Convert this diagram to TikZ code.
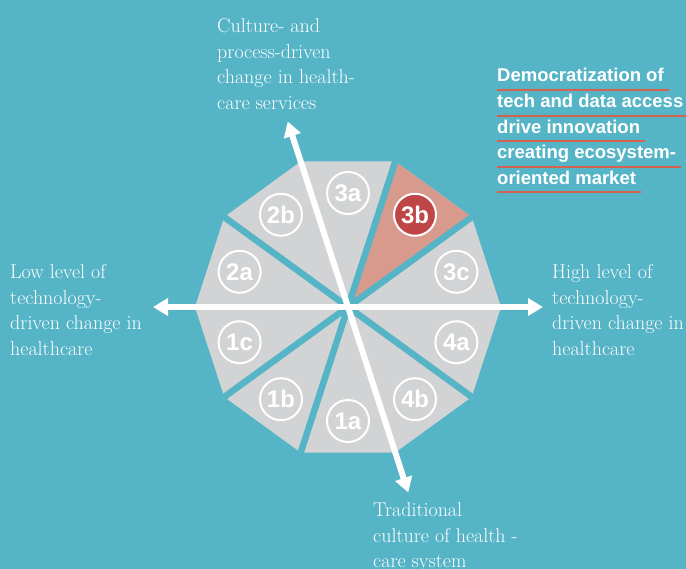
\documentclass[tikz,border=0pt]{standalone}
\usepackage{fontspec}
\newfontfamily\boldsans{Liberation Sans}
\usetikzlibrary{arrows.meta,calc}
\definecolor{bg}{RGB}{86,180,199}
\definecolor{seg}{RGB}{209,211,212}
\definecolor{hl}{RGB}{216,154,140}
\definecolor{dred}{RGB}{190,70,70}
\definecolor{uline}{RGB}{213,97,79}
\tikzset{
  axislabel/.style={anchor=north west, inner sep=0pt, align=left, text=white,
    font=\fontsize{20}{25.8}\selectfont},
  seglabel/.style={circle, draw=white, line width=2pt, minimum size=42pt, inner sep=0pt,
    text=white, font=\boldsans\bfseries\fontsize{24}{24}\selectfont},
  divider/.style={draw=bg, line width=6.5pt},
  axisarrow/.style={draw=white, line width=6pt,
    {Triangle[length=15pt,width=17pt]}-{Triangle[length=15pt,width=17pt]}},
  headline/.style={anchor=base west, inner sep=0pt, text=white,
    font=\boldsans\bfseries\fontsize{18.5}{22}\selectfont},
  uline/.style={draw=uline, line width=2pt}
}
\begin{document}
\begin{tikzpicture}[x=1pt,y=-1pt]
\fill[bg] (0,0) rectangle (686,569);
\useasboundingbox (0,0) rectangle (686,569);
\coordinate (c) at (348,307);
\foreach \i in {0,...,9} {\coordinate (v\i) at ($(c)+(\i*36:153pt)$);}
% decagon
\fill[seg] (v0) -- (v1) -- (v2) -- (v3) -- (v4) -- (v5) -- (v6) -- (v7) -- (v8) -- (v9) -- cycle;
% highlighted sector 3b
\fill[hl] (c) -- (v1) -- (v2) -- cycle;
% blue dividers
\foreach \i in {1,2,4,6,7,9} {\draw[divider] (c) -- (v\i);}
% white axes
\coordinate (tipR) at ($(c)+(0:195pt)$);
\coordinate (tipL) at ($(c)+(180:195pt)$);
\coordinate (tipT) at ($(c)+(108:195pt)$);
\coordinate (tipB) at ($(c)+(288:195pt)$);
\draw[axisarrow] (tipL) -- (tipR);
\draw[axisarrow] (tipB) -- (tipT);
% segment labels
\node[seglabel] (s3a) at ($(c)+(90:114pt)$) {3a};
\node[seglabel, fill=dred] (s3b) at ($(c)+(54:114pt)$) {3b};
\node[seglabel] (s3c) at ($(c)+(18:114pt)$) {3c};
\node[seglabel] (s4a) at ($(c)+(-18:114pt)$) {4a};
\node[seglabel] (s4b) at ($(c)+(-54:114pt)$) {4b};
\node[seglabel] (s1a) at ($(c)+(-90:114pt)$) {1a};
\node[seglabel] (s1b) at ($(c)+(-126:114pt)$) {1b};
\node[seglabel] (s1c) at ($(c)+(-162:114pt)$) {1c};
\node[seglabel] (s2a) at ($(c)+(162:114pt)$) {2a};
\node[seglabel] (s2b) at ($(c)+(126:114pt)$) {2b};
% axis labels
\node[axislabel] (ltop) at (217,14) {\strut Culture- and\\process-driven\\change in health-\\care services};
\node[axislabel] (lleft) at (10,260) {\strut Low level of\\technology-\\driven change in\\healthcare};
\node[axislabel] (lright) at (552,260) {\strut High level of\\technology-\\driven change in\\healthcare};
\node[axislabel] (lbottom) at (373,498) {\strut Traditional\\culture of health -\\care system};
% headline
\node[headline] (h1) at (497,82) {Democratization of};
\node[headline] (h2) at (497,107.7) {tech and data access};
\node[headline] (h3) at (497,133.3) {drive innovation};
\node[headline] (h4) at (497,159) {creating ecosystem-};
\node[headline] (h5) at (497,184.5) {oriented market};
\foreach \h in {h1,h2,h3,h4,h5} {\draw[uline] ($(\h.base west)+(0,8)$) -- ($(\h.base east)+(5,8)$);}
\end{tikzpicture}
\end{document}
